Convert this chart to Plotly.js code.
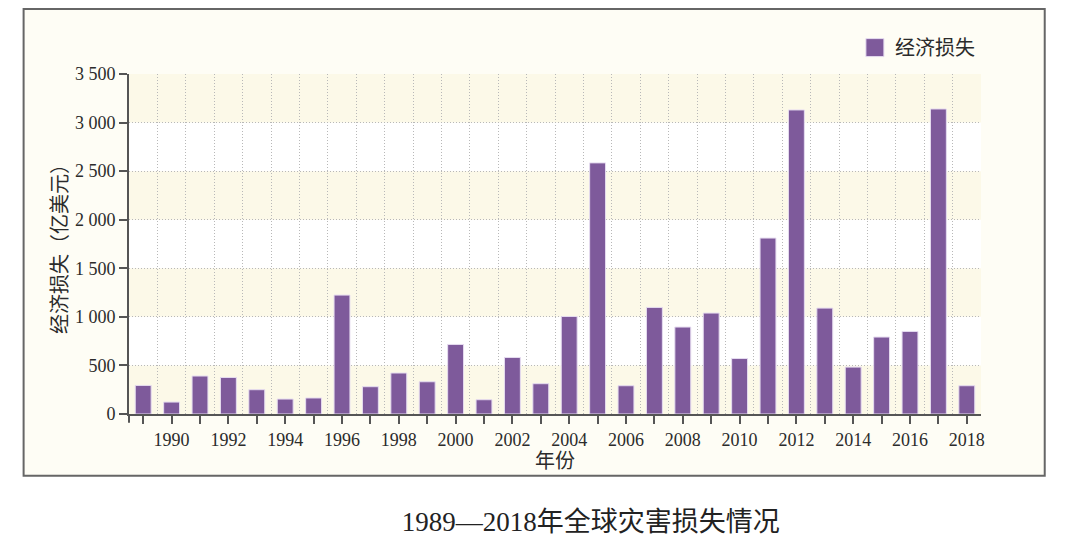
<!DOCTYPE html>
<html>
<head>
<meta charset="utf-8">
<script src="https://cdn.plot.ly/plotly-3.0.1.min.js"></script>
<style>html,body{margin:0;padding:0;background:#fff;}#chart{width:1080px;height:539px;}</style>
</head>
<body>
<div id="chart"></div>
<script>
// Data
const years = [1989,1990,1991,1992,1993,1994,1995,1996,1997,1998,1999,2000,2001,2002,2003,2004,2005,2006,2007,2008,2009,2010,2011,2012,2013,2014,2015,2016,2017,2018];
const losses = [294,123,391,376,250,154,165,1224,281,422,332,716,147,582,312,1004,2585,291,1097,895,1039,571,1811,3130,1090,483,792,850,3140,291];
const seriesName = '经济损失';
const yTicks = [0,500,1000,1500,2000,2500,3000,3500];
const xTickLabels = years.map(y => (y % 2 === 0 ? String(y) : ''));
const bandStarts = [0,1000,2000,3000];

const FONT = '"Liberation Serif", "Noto Sans CJK SC", serif';
const TXT = '#2b2b2b';
const AX = '#555555';
const GRID = '#B8B8B8';
const DASH = '1px,2px';

const shapes = [
  // outer frame
  {type:'rect', xref:'paper', yref:'paper', x0:-0.1237, x1:1.0748, y0:-0.1813, y1:1.191,
   fillcolor:'#FEFDF5', line:{color:'#666666', width:2}, layer:'below'},
  // white plot area
  {type:'rect', xref:'paper', yref:'paper', x0:0, x1:1, y0:0, y1:1,
   fillcolor:'#FFFFFF', line:{width:0}, layer:'below'}
];
bandStarts.forEach(b => shapes.push({type:'rect', xref:'paper', yref:'y', x0:0, x1:1, y0:b, y1:Math.min(b+500,3500),
  fillcolor:'#FCF9E8', line:{width:0}, layer:'below'}));
// y axis line extension below x axis
shapes.push({type:'line', xref:'paper', yref:'paper', x0:0, x1:0, y0:-0.026, y1:0, line:{color:AX, width:2}});

const trace = {
  type:'bar', x:years, y:losses, name:seriesName, width:0.56,
  marker:{color:'#7E5A9B', line:{color:'#E6DCF0', width:1}},
  showlegend:true
};

const layout = {
  width:1080, height:539,
  margin:{l:128.5, r:98.8, t:74, b:124.7, pad:0},
  paper_bgcolor:'#FFFFFF', plot_bgcolor:'rgba(0,0,0,0)',
  separators:'. ',
  font:{family:FONT, color:TXT, size:18},
  showlegend:true,
  legend:{x:0.852, xanchor:'left', y:1.135, yanchor:'top', bgcolor:'rgba(0,0,0,0)',
          font:{family:FONT, size:20, color:TXT}},
  title:{text:'1989—2018年全球灾害损失情况', xref:'container', yref:'container', x:0.547, xanchor:'center',
         y:0.032, yanchor:'middle', font:{family:FONT, size:27, color:'#222'}},
  xaxis:{range:[1988.5,2018.5], tickmode:'array', tickvals:years, ticktext:xTickLabels,
         ticks:'outside', ticklen:8, tickwidth:2, tickcolor:AX,
         showline:true, linecolor:AX, linewidth:2, showgrid:false, zeroline:false,
         minor:{tickmode:'linear', tick0:1988.5, dtick:1, showgrid:true, griddash:DASH, gridcolor:GRID, gridwidth:1, ticks:''},
         tickfont:{family:FONT, size:18, color:TXT},
         title:{text:'年份', font:{family:FONT, size:20, color:TXT}, standoff:4}},
  yaxis:{range:[0,3500], tickmode:'array', tickvals:yTicks, separatethousands:true,
         ticks:'outside', ticklen:8, tickwidth:2, tickcolor:AX,
         showline:true, linecolor:AX, linewidth:2, zeroline:false,
         showgrid:true, griddash:DASH, gridcolor:GRID, gridwidth:1,
         tickfont:{family:FONT, size:18, color:TXT},
         title:{text:'经济损失（亿美元）', font:{family:FONT, size:20, color:TXT}, standoff:2}},
  shapes:shapes,
  bargap:0.44
};

Plotly.newPlot('chart', [trace], layout, {displayModeBar:false, staticPlot:true}).then(gd => {
  gd.querySelectorAll('.legendpoints path').forEach(p => p.setAttribute('d','M9,9H-9V-9H9Z'));
});
</script>
</body>
</html>
